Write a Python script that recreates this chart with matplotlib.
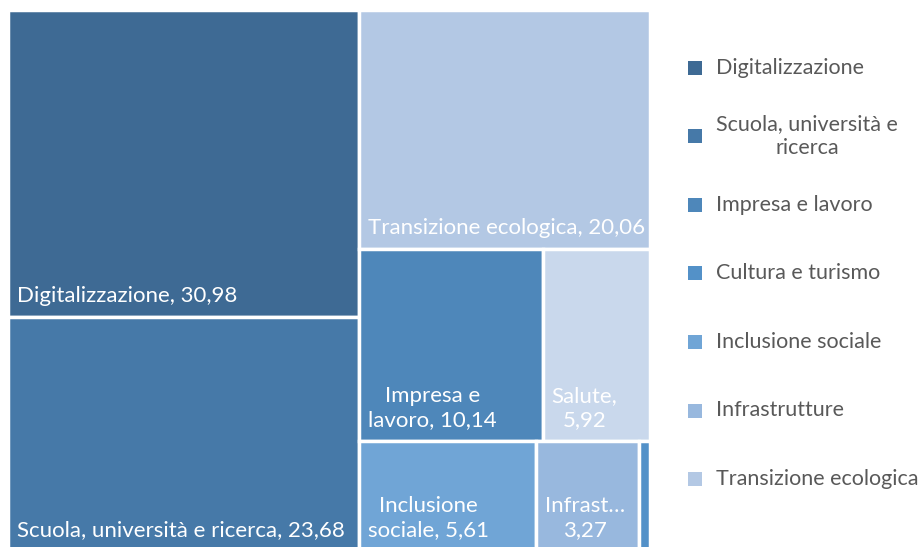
import matplotlib.pyplot as plt
from matplotlib.patches import Rectangle

plt.rcParams['font.family'] = ['Lato', 'DejaVu Sans']

# spending by mission (billion EUR)
names = ['Digitalizzazione', 'Scuola, università e ricerca', 'Transizione ecologica',
         'Impresa e lavoro', 'Salute', 'Inclusione sociale', 'Infrastrutture',
         'Cultura e turismo']
values = [30.98, 23.68, 20.06, 10.14, 5.92, 5.61, 3.27, 0.34]
colors = ['#3e6a94', '#4679a8', '#b3c8e4', '#4e87ba', '#c9d8ec', '#70a5d6',
          '#98b8de', '#5391c8']
# label text drawn inside each cell (None = no label)
cell_labels = ['Digitalizzazione, 30,98', 'Scuola, università e ricerca, 23,68',
               'Transizione ecologica, 20,06', 'Impresa e\nlavoro, 10,14',
               'Salute,\n5,92', 'Inclusione\nsociale, 5,61', 'Infrast…\n3,27', None]
legend_names = ['Digitalizzazione', 'Scuola, università e\nricerca', 'Impresa e lavoro',
                'Cultura e turismo', 'Inclusione sociale', 'Infrastrutture',
                'Transizione ecologica']
legend_colors = ['#3e6a94', '#4679a8', '#4e87ba', '#5391c8', '#70a5d6', '#98b8de',
                 '#b3c8e4']

# nested split: 'h' splits left->right, 'v' splits top->bottom
tree = ('h', [('v', [0, 1]),
              ('v', [2, ('v', [('h', [3, 4]), ('h', [5, 6, 7])])])])


def total(node):
    if isinstance(node, int):
        return values[node]
    return sum(total(c) for c in node[1])


def layout(node, x, y, w, h, out):
    if isinstance(node, int):
        out[node] = (x, y, w, h)
        return
    d, kids = node
    s = total(node)
    for k in kids:
        f = total(k) / s
        if d == 'h':
            layout(k, x, y, w * f, h, out)
            x += w * f
        else:
            layout(k, x, y, w, h * f, out)
            y += h * f


W, H = 924, 547
fig = plt.figure(figsize=(W / 100, H / 100), dpi=100)
# treemap area in pixels: x 8..650, y 10..551 (bottom runs past the edge)
ax = fig.add_axes([8 / W, (H - 551) / H, 642 / W, 541 / H])
ax.set_xlim(0, 642)
ax.set_ylim(541, 0)
ax.axis('off')

rects = {}
layout(tree, 0, 0, 642, 541, rects)
for i, (x, y, w, h) in rects.items():
    ax.add_patch(Rectangle((x, y), w, h, facecolor=colors[i], edgecolor='white',
                           linewidth=2.5))
    if cell_labels[i]:
        ax.text(x + 9, y + h - 11, cell_labels[i],
                color='white', fontsize=16, ha='left', va='bottom',
                multialignment='center', linespacing=1.22)

# legend on the right
for j, (lab, c) in enumerate(zip(legend_names, legend_colors)):
    cy = 67.5 + j * 68.6
    fig.patches.append(Rectangle((688 / W, 1 - (cy + 7) / H), 14 / W, 14 / H,
                                 facecolor=c, edgecolor='none',
                                 transform=fig.transFigure))
    fig.text(716 / W, 1 - cy / H, lab, color='#595959', fontsize=15.5,
             ha='left', va='center', multialignment='center', linespacing=1.3)

fig.savefig('out.png', dpi=100)
